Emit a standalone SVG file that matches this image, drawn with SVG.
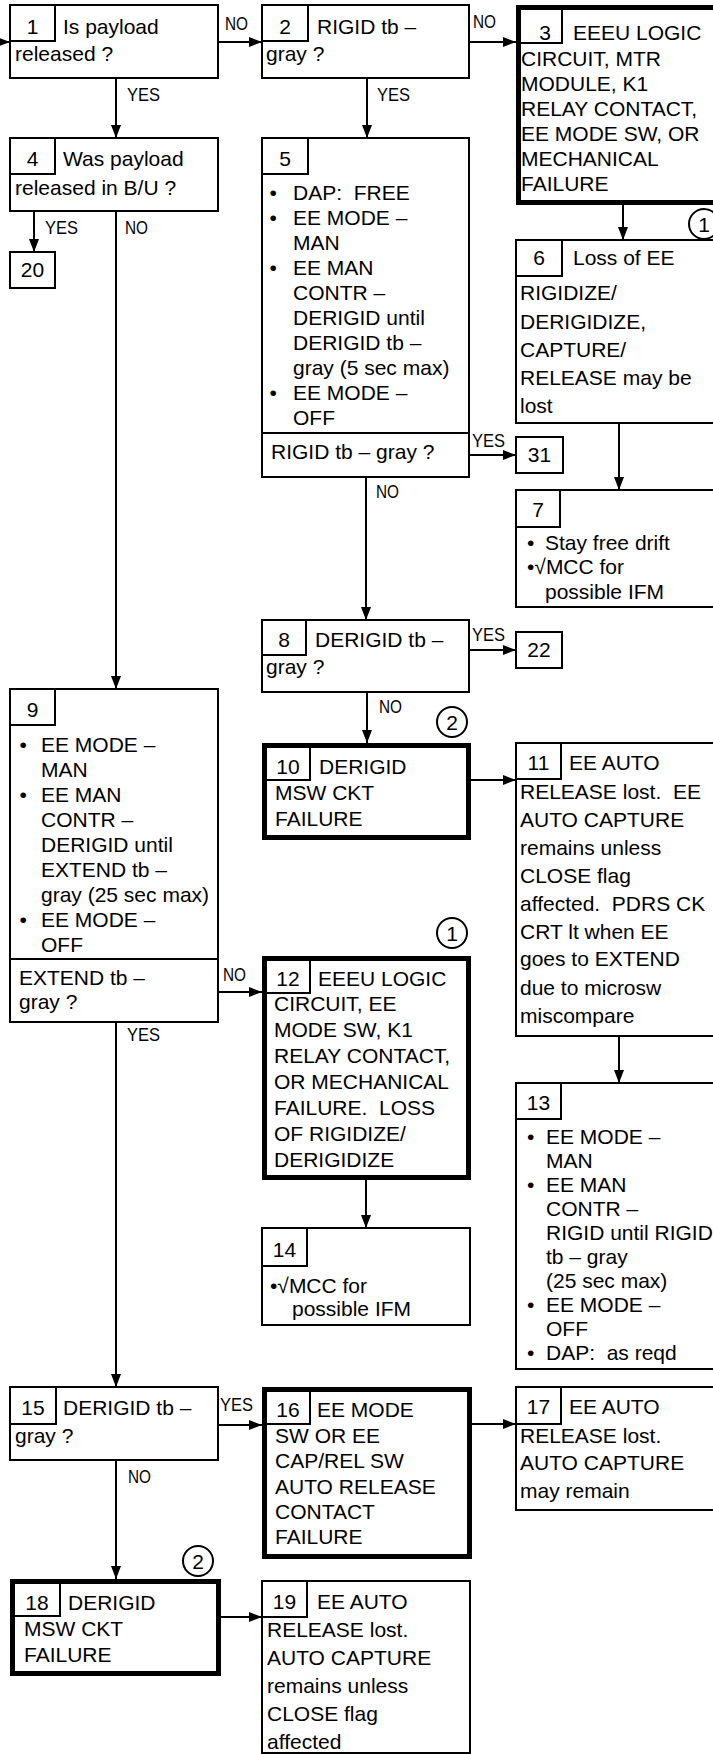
<svg xmlns="http://www.w3.org/2000/svg" width="713" height="1754" viewBox="0 0 713 1754">
<style>
text{font-family:"Liberation Sans",Arial,Helvetica,sans-serif;font-size:21px;fill:#000;white-space:pre}
.n{text-anchor:middle}
.lbl{font-size:18px}
.b{fill:#fff;stroke:#000;stroke-width:2}
.t{fill:#fff;stroke:#000;stroke-width:5}
.c{fill:none;stroke:#000;stroke-width:2}
.k{fill:#fff;stroke:#000;stroke-width:2}
#connectors line{stroke:#000;stroke-width:2;marker-end:url(#ah)}
</style>
<defs>
<marker id="ah" markerUnits="userSpaceOnUse" markerWidth="13" markerHeight="10" refX="13" refY="5" orient="auto"><path d="M0,0 L13,5 L0,10 z" fill="#000"/></marker>
</defs>
<rect width="713" height="1754" fill="#fff"/>

<g id="n1"><rect class="b" x="10" y="5" width="208" height="73"/><rect class="c" x="10" y="5" width="45" height="36"/>
<text class="n" x="32.5" y="34">1</text><text x="63" y="34">Is payload</text><text x="15" y="61">released ?</text></g>

<g id="n2"><rect class="b" x="262" y="5" width="207" height="73"/><rect class="c" x="262" y="5" width="46" height="36"/>
<text class="n" x="285" y="34">2</text><text x="317" y="34">RIGID tb –</text><text x="266" y="61">gray ?</text></g>

<g id="n3"><rect class="t" x="518.5" y="7.5" width="220" height="195"/><rect class="c" x="518.5" y="7.5" width="43.5" height="35.5"/>
<text class="n" x="545" y="40">3</text><text x="573" y="40">EEEU LOGIC</text>
<text x="521" y="66">CIRCUIT, MTR</text><text x="521" y="91">MODULE, K1</text><text x="521" y="116">RELAY CONTACT,</text><text x="521" y="141">EE MODE SW, OR</text><text x="521" y="166">MECHANICAL</text><text x="521" y="191">FAILURE</text></g>

<g id="n4"><rect class="b" x="10" y="138" width="208" height="73"/><rect class="c" x="10" y="138" width="45" height="36"/>
<text class="n" x="32.5" y="166">4</text><text x="63" y="166">Was payload</text><text x="15" y="195">released in B/U ?</text></g>

<g id="n20"><rect class="b" x="10" y="252" width="45" height="36"/><text class="n" x="32.5" y="277">20</text></g>

<g id="n5"><rect class="b" x="262" y="138" width="207" height="339"/><rect class="c" x="262" y="138" width="46" height="36"/>
<text class="n" x="285" y="166">5</text>
<text x="269.5" y="200">•</text><text x="293" y="200">DAP:  FREE</text>
<text x="269.5" y="225">•</text><text x="293" y="225">EE MODE –</text>
<text x="293" y="250">MAN</text>
<text x="269.5" y="275">•</text><text x="293" y="275">EE MAN</text>
<text x="293" y="300">CONTR –</text>
<text x="293" y="325">DERIGID until</text>
<text x="293" y="350">DERIGID tb –</text>
<text x="293" y="375">gray (5 sec max)</text>
<text x="269.5" y="400">•</text><text x="293" y="400">EE MODE –</text>
<text x="293" y="425">OFF</text>
<line x1="262" y1="433" x2="469" y2="433" stroke="#000" stroke-width="2"/>
<text x="271" y="459">RIGID tb – gray ?</text></g>

<g id="n31"><rect class="b" x="516" y="437" width="47" height="36"/><text class="n" x="539.5" y="462">31</text></g>

<g id="n6"><rect class="b" x="516" y="240" width="220" height="183"/><rect class="c" x="516" y="240" width="46" height="36"/>
<text class="n" x="539" y="265">6</text><text x="573" y="265">Loss of EE</text>
<text x="520" y="300">RIGIDIZE/</text><text x="520" y="329">DERIGIDIZE,</text><text x="520" y="357">CAPTURE/</text><text x="520" y="385">RELEASE may be</text><text x="520" y="413">lost</text></g>
<g id="c1a"><circle class="k" cx="704" cy="224" r="15"/><text class="n" x="704" y="231.5">1</text></g>

<g id="n7"><rect class="b" x="516" y="490" width="220" height="117"/><rect class="c" x="516" y="490" width="44" height="37"/>
<text class="n" x="538" y="517">7</text>
<text x="527" y="550">•</text><text x="545" y="550">Stay free drift</text>
<text x="527" y="574">•√MCC for</text>
<text x="545" y="599">possible IFM</text></g>

<g id="n8"><rect class="b" x="262" y="620" width="207" height="72"/><rect class="c" x="262" y="620" width="44" height="35"/>
<text class="n" x="284" y="647">8</text><text x="315" y="647">DERIGID tb –</text><text x="266" y="674">gray ?</text></g>

<g id="n22"><rect class="b" x="516" y="632" width="46" height="36"/><text class="n" x="539" y="657">22</text></g>

<g id="n9"><rect class="b" x="10" y="689" width="208" height="333"/><rect class="c" x="10" y="689" width="45" height="36"/>
<text class="n" x="32.5" y="717">9</text>
<text x="19.5" y="752">•</text><text x="41" y="752">EE MODE –</text>
<text x="41" y="777">MAN</text>
<text x="19.5" y="802">•</text><text x="41" y="802">EE MAN</text>
<text x="41" y="827">CONTR –</text>
<text x="41" y="852">DERIGID until</text>
<text x="41" y="877">EXTEND tb –</text>
<text x="41" y="902">gray (25 sec max)</text>
<text x="19.5" y="927">•</text><text x="41" y="927">EE MODE –</text>
<text x="41" y="952">OFF</text>
<line x1="10" y1="959" x2="218" y2="959" stroke="#000" stroke-width="2"/>
<text x="19" y="985">EXTEND tb –</text><text x="19" y="1009">gray ?</text></g>

<g id="n10"><rect class="t" x="264.5" y="745.5" width="204" height="92"/><rect class="c" x="264.5" y="745.5" width="45.5" height="34.5"/>
<text class="n" x="288" y="774">10</text><text x="319" y="774">DERIGID</text><text x="275" y="800">MSW CKT</text><text x="275" y="826">FAILURE</text></g>
<g id="c2a"><circle class="k" cx="452" cy="722" r="15"/><text class="n" x="452" y="729.5">2</text></g>

<g id="n11"><rect class="b" x="516" y="743" width="220" height="293"/><rect class="c" x="516" y="743" width="45" height="36"/>
<text class="n" x="538.5" y="770">11</text><text x="569" y="770">EE AUTO</text>
<text x="520" y="799">RELEASE lost.  EE</text><text x="520" y="827">AUTO CAPTURE</text><text x="520" y="855">remains unless</text><text x="520" y="883">CLOSE flag</text><text x="520" y="911">affected.  PDRS CK</text><text x="520" y="939">CRT lt when EE</text><text x="520" y="966">goes to EXTEND</text><text x="520" y="995">due to microsw</text><text x="520" y="1023">miscompare</text></g>

<g id="n12"><rect class="t" x="264.5" y="958.5" width="204" height="219"/><rect class="c" x="264.5" y="958.5" width="45.5" height="34.5"/>
<text class="n" x="288" y="986">12</text><text x="318" y="986">EEEU LOGIC</text>
<text x="274" y="1011">CIRCUIT, EE</text><text x="274" y="1037">MODE SW, K1</text><text x="274" y="1063">RELAY CONTACT,</text><text x="274" y="1089">OR MECHANICAL</text><text x="274" y="1115">FAILURE.  LOSS</text><text x="274" y="1141">OF RIGIDIZE/</text><text x="274" y="1167">DERIGIDIZE</text></g>
<g id="c1b"><circle class="k" cx="452" cy="933" r="15"/><text class="n" x="452" y="940.5">1</text></g>

<g id="n14"><rect class="b" x="262" y="1228" width="208" height="97"/><rect class="c" x="262" y="1228" width="45" height="38"/>
<text class="n" x="284.5" y="1257">14</text><text x="270" y="1293">•√MCC for</text><text x="292" y="1316">possible IFM</text></g>

<g id="n13"><rect class="b" x="516" y="1083" width="220" height="286"/><rect class="c" x="516" y="1083" width="45" height="36"/>
<text class="n" x="538.5" y="1110">13</text>
<text x="527" y="1144">•</text><text x="546" y="1144">EE MODE –</text>
<text x="546" y="1168">MAN</text>
<text x="527" y="1192">•</text><text x="546" y="1192">EE MAN</text>
<text x="546" y="1216">CONTR –</text>
<text x="546" y="1240">RIGID until RIGID</text>
<text x="546" y="1264">tb – gray</text>
<text x="546" y="1288">(25 sec max)</text>
<text x="527" y="1312">•</text><text x="546" y="1312">EE MODE –</text>
<text x="546" y="1336">OFF</text>
<text x="527" y="1360">•</text><text x="546" y="1360">DAP:  as reqd</text></g>

<g id="n15"><rect class="b" x="10" y="1387" width="208" height="73"/><rect class="c" x="10" y="1387" width="46" height="37"/>
<text class="n" x="33" y="1415">15</text><text x="63" y="1415">DERIGID tb –</text><text x="15" y="1443">gray ?</text></g>

<g id="n16"><rect class="t" x="264.5" y="1389.5" width="205" height="167"/><rect class="c" x="264.5" y="1389.5" width="45.5" height="34.5"/>
<text class="n" x="288" y="1417">16</text><text x="317" y="1417">EE MODE</text>
<text x="275" y="1443">SW OR EE</text><text x="275" y="1468">CAP/REL SW</text><text x="275" y="1494">AUTO RELEASE</text><text x="275" y="1519">CONTACT</text><text x="275" y="1544">FAILURE</text></g>

<g id="n17"><rect class="b" x="516" y="1387" width="220" height="123"/><rect class="c" x="516" y="1387" width="45" height="37"/>
<text class="n" x="538.5" y="1414">17</text><text x="569" y="1414">EE AUTO</text>
<text x="520" y="1443">RELEASE lost.</text><text x="520" y="1470">AUTO CAPTURE</text><text x="520" y="1498">may remain</text></g>

<g id="n18"><rect class="t" x="12.5" y="1581.5" width="206" height="92"/><rect class="c" x="12.5" y="1581.5" width="47.5" height="34.5"/>
<text class="n" x="37" y="1610">18</text><text x="68" y="1610">DERIGID</text><text x="24" y="1636">MSW CKT</text><text x="24" y="1662">FAILURE</text></g>
<g id="c2b"><circle class="k" cx="198" cy="1561" r="15"/><text class="n" x="198" y="1568.5">2</text></g>

<g id="n19"><rect class="b" x="262" y="1581" width="208" height="172"/><rect class="c" x="262" y="1581" width="45" height="36"/>
<text class="n" x="284.5" y="1609">19</text><text x="317" y="1609">EE AUTO</text>
<text x="267" y="1637">RELEASE lost.</text><text x="267" y="1665">AUTO CAPTURE</text><text x="267" y="1693">remains unless</text><text x="267" y="1721">CLOSE flag</text><text x="267" y="1749">affected</text></g>

<g id="connectors">
<line x1="-5" y1="42" x2="10" y2="42"/>
<line x1="218" y1="42" x2="262" y2="42"/>
<line x1="469" y1="42" x2="516" y2="42"/>
<line x1="116" y1="78" x2="116" y2="138"/>
<line x1="367" y1="78" x2="367" y2="138"/>
<line x1="34" y1="211" x2="34" y2="252"/>
<line x1="116" y1="211" x2="116" y2="689"/>
<line x1="623" y1="205" x2="623" y2="240"/>
<line x1="469" y1="455" x2="516" y2="455"/>
<line x1="619" y1="423" x2="619" y2="490"/>
<line x1="366" y1="477" x2="366" y2="620"/>
<line x1="469" y1="650" x2="516" y2="650"/>
<line x1="367" y1="692" x2="367" y2="743"/>
<line x1="471" y1="780" x2="516" y2="780"/>
<line x1="218" y1="992" x2="262" y2="992"/>
<line x1="366" y1="1180" x2="366" y2="1228"/>
<line x1="619" y1="1036" x2="619" y2="1083"/>
<line x1="116" y1="1022" x2="116" y2="1387"/>
<line x1="218" y1="1425" x2="262" y2="1425"/>
<line x1="472" y1="1424" x2="516" y2="1424"/>
<line x1="116" y1="1460" x2="116" y2="1579"/>
<line x1="221" y1="1617" x2="262" y2="1617"/>
<text class="lbl" x="225" y="30" textLength="23" lengthAdjust="spacingAndGlyphs">NO</text>
<text class="lbl" x="473" y="28" textLength="23" lengthAdjust="spacingAndGlyphs">NO</text>
<text class="lbl" x="127" y="101" textLength="33" lengthAdjust="spacingAndGlyphs">YES</text>
<text class="lbl" x="377" y="101" textLength="33" lengthAdjust="spacingAndGlyphs">YES</text>
<text class="lbl" x="45" y="234" textLength="33" lengthAdjust="spacingAndGlyphs">YES</text>
<text class="lbl" x="125" y="234" textLength="23" lengthAdjust="spacingAndGlyphs">NO</text>
<text class="lbl" x="472" y="447" textLength="33" lengthAdjust="spacingAndGlyphs">YES</text>
<text class="lbl" x="376" y="498" textLength="23" lengthAdjust="spacingAndGlyphs">NO</text>
<text class="lbl" x="472" y="641" textLength="33" lengthAdjust="spacingAndGlyphs">YES</text>
<text class="lbl" x="379" y="713" textLength="23" lengthAdjust="spacingAndGlyphs">NO</text>
<text class="lbl" x="223" y="981" textLength="23" lengthAdjust="spacingAndGlyphs">NO</text>
<text class="lbl" x="127" y="1041" textLength="33" lengthAdjust="spacingAndGlyphs">YES</text>
<text class="lbl" x="220" y="1411" textLength="33" lengthAdjust="spacingAndGlyphs">YES</text>
<text class="lbl" x="128" y="1483" textLength="23" lengthAdjust="spacingAndGlyphs">NO</text>
</g>
</svg>
